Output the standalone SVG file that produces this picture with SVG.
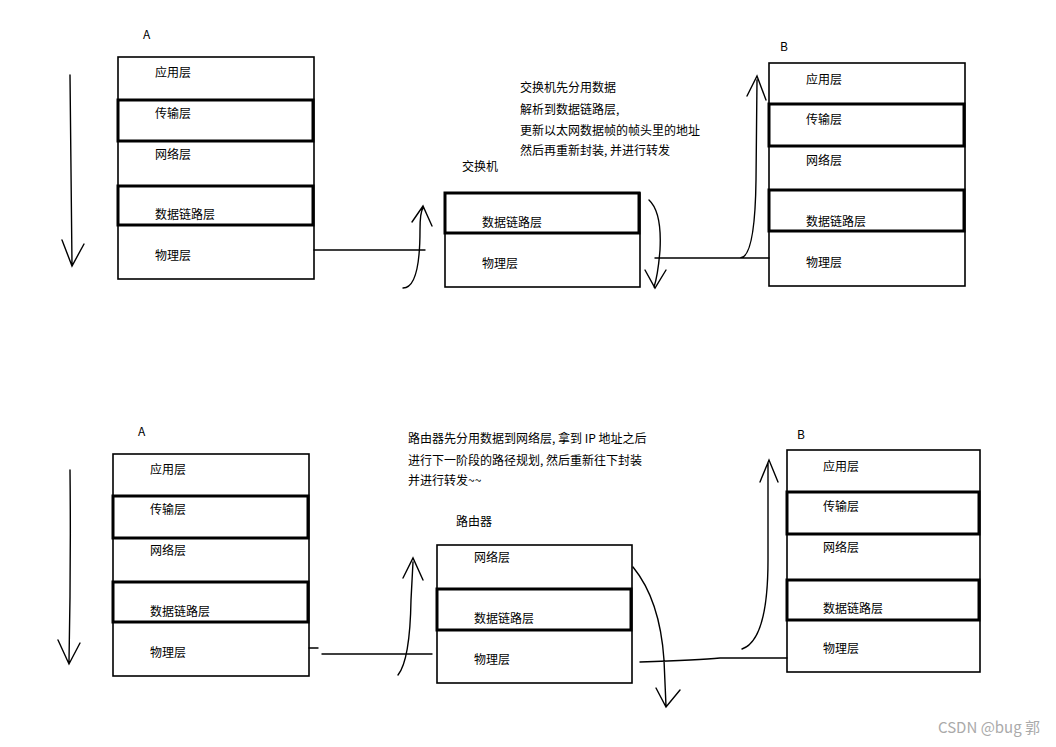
<svg xmlns="http://www.w3.org/2000/svg" width="1056" height="747" viewBox="0 0 1056 747">
<style>
.b{fill:none;stroke:#000;stroke-width:1.6}
.t{fill:none;stroke:#000;stroke-width:3}
.c{fill:none;stroke:#000;stroke-width:1.4;stroke-linecap:round}
text{font-family:"Noto Sans CJK SC","Liberation Sans",sans-serif;font-size:12px;fill:#000}
</style>
<rect width="1056" height="747" fill="#fff"/>
<g id="topA">
<text x="143" y="39">A</text>
<rect class="b" x="118" y="57" width="196" height="222"/>
<line class="b" x1="118" y1="100" x2="314" y2="100"/>
<rect class="t" x="118" y="100" width="195" height="41"/>
<line class="b" x1="118" y1="186" x2="314" y2="186"/>
<rect class="t" x="118" y="186" width="195" height="39"/>
<text x="155" y="77">应用层</text><text x="155" y="118">传输层</text><text x="155" y="159">网络层</text><text x="155" y="219">数据链路层</text><text x="155" y="260">物理层</text>
</g>
<g id="switch">
<text x="462" y="171">交换机</text>
<rect class="b" x="445" y="193" width="195" height="94"/>
<rect class="t" x="445" y="193" width="194" height="40"/>
<text x="482" y="227">数据链路层</text><text x="482" y="268">物理层</text>
<text x="520" y="92">交换机先分用数据</text><text x="520" y="114">解析到数据链路层,</text><text x="520" y="135">更新以太网数据帧的帧头里的地址</text><text x="520" y="155">然后再重新封装, 并进行转发</text>
</g>
<g id="topB">
<text x="780" y="51">B</text>
<rect class="b" x="769" y="63" width="196" height="223"/>
<rect class="t" x="769" y="104" width="195" height="42"/>
<line class="b" x1="769" y1="190" x2="965" y2="190"/>
<rect class="t" x="769" y="190" width="195" height="41"/>
<text x="806" y="84">应用层</text><text x="806" y="124">传输层</text><text x="806" y="165">网络层</text><text x="806" y="226">数据链路层</text><text x="806" y="267">物理层</text>
</g>
<g id="botA">
<text x="138" y="436">A</text>
<rect class="b" x="113" y="454" width="196" height="222"/>
<rect class="t" x="113" y="496" width="195" height="42"/>
<rect class="t" x="113" y="582" width="195" height="40"/>
<text x="150" y="474">应用层</text><text x="150" y="514">传输层</text><text x="150" y="555">网络层</text><text x="150" y="616">数据链路层</text><text x="150" y="657">物理层</text>
</g>
<g id="router">
<text x="456" y="526">路由器</text>
<rect class="b" x="437" y="545" width="195" height="138"/>
<rect class="t" x="437" y="589" width="194" height="41"/>
<text x="474" y="562">网络层</text><text x="474" y="623">数据链路层</text><text x="474" y="664">物理层</text>
<text x="408" y="443">路由器先分用数据到网络层, 拿到 IP 地址之后</text><text x="408" y="465">进行下一阶段的路径规划, 然后重新往下封装</text><text x="408" y="485">并进行转发~~</text>
</g>
<g id="botB">
<text x="797" y="439">B</text>
<rect class="b" x="787" y="450" width="193" height="222"/>
<rect class="t" x="787" y="492" width="192" height="42"/>
<rect class="t" x="787" y="580" width="192" height="40"/>
<text x="823" y="471">应用层</text><text x="823" y="511">传输层</text><text x="823" y="552">网络层</text><text x="823" y="613">数据链路层</text><text x="823" y="653">物理层</text>
</g>
<g id="connectors">
<path class="c" d="M70 75 Q71 170 72 265 M62 240 L72 266 L84 244"/>
<path class="c" d="M314 250 L425 250 M403 288 Q420 288 420 230 Q420 212 423 208 M412 222 L423 206 L432 226"/>
<path class="c" d="M649 200 Q662 212 660 250 Q658 275 654 287 M645 270 L655 288 L666 270"/>
<path class="c" d="M655 258 L769 258 M740 258 Q755 258 756 180 L757 80 M747 96 L757 76 L766 100"/>
<path class="c" d="M70 470 Q71 565 69 662 M58 640 L69 664 L80 643"/>
<path class="c" d="M309 648 L318 648 M322 654 L432 654 M398 675 Q410 660 411 600 L413 562 M403 578 L413 558 L423 580"/>
<path class="c" d="M640 662 Q700 660 720 658 L787 658 M633 567 Q660 600 664 660 L666 706 M656 688 L666 707 L680 690"/>
<path class="c" d="M742 649 Q768 640 768 560 L768 463 M760 482 L769 460 L778 482"/>
</g>
<text x="938" y="733" style="font-size:15px;fill:#aaa">CSDN @bug 郭</text>
</svg>
